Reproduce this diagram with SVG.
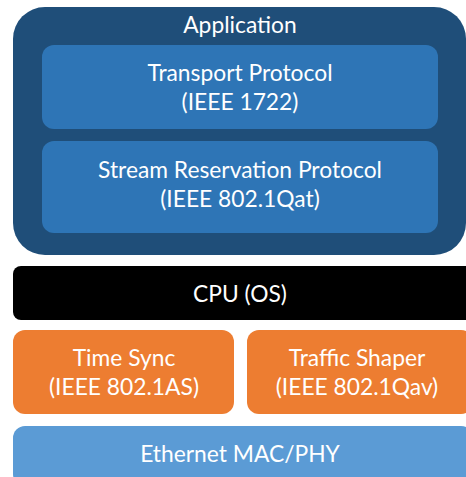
<svg xmlns="http://www.w3.org/2000/svg" width="466" height="477" viewBox="0 0 466 477">
  <style>
    text { font-family: Lato, "Open Sans", "Liberation Sans", sans-serif; font-size: 22.8px; fill: #ffffff; text-anchor: middle; }
    .app { fill: #1f4e79; }
    .inner { fill: #2e75b6; }
    .cpu { fill: #000000; }
    .tsn { fill: #ed7d31; }
    .mac { fill: #5b9bd5; }
  </style>
  <rect width="466" height="477" fill="#ffffff"/>
  <g id="application">
    <rect class="app" x="13" y="7" width="453" height="248" rx="32" ry="32"/>
    <text x="240" y="33">Application</text>
  </g>
  <g id="transport">
    <rect class="inner" x="42" y="45" width="396" height="84" rx="12" ry="12"/>
    <text x="240" y="81">Transport Protocol</text>
    <text x="240" y="110">(IEEE 1722)</text>
  </g>
  <g id="srp">
    <rect class="inner" x="42" y="141" width="396" height="92" rx="12" ry="12"/>
    <text x="240" y="178">Stream Reservation Protocol</text>
    <text x="240" y="207">(IEEE 802.1Qat)</text>
  </g>
  <g id="cpu">
    <rect class="cpu" x="13" y="266" width="460" height="54" rx="8" ry="8"/>
    <text x="240" y="302">CPU (OS)</text>
  </g>
  <g id="timesync">
    <rect class="tsn" x="13" y="330" width="221" height="84" rx="12" ry="12"/>
    <text x="124" y="366">Time Sync</text>
    <text x="124" y="395">(IEEE 802.1AS)</text>
  </g>
  <g id="shaper">
    <rect class="tsn" x="247" y="330" width="226" height="84" rx="12" ry="12"/>
    <text x="357" y="366">Traffic Shaper</text>
    <text x="357" y="395">(IEEE 802.1Qav)</text>
  </g>
  <g id="ethernet">
    <rect class="mac" x="13" y="426" width="460" height="60" rx="12" ry="12"/>
    <text x="240" y="462">Ethernet MAC/PHY</text>
  </g>
  <g id="connectors"/>
</svg>
